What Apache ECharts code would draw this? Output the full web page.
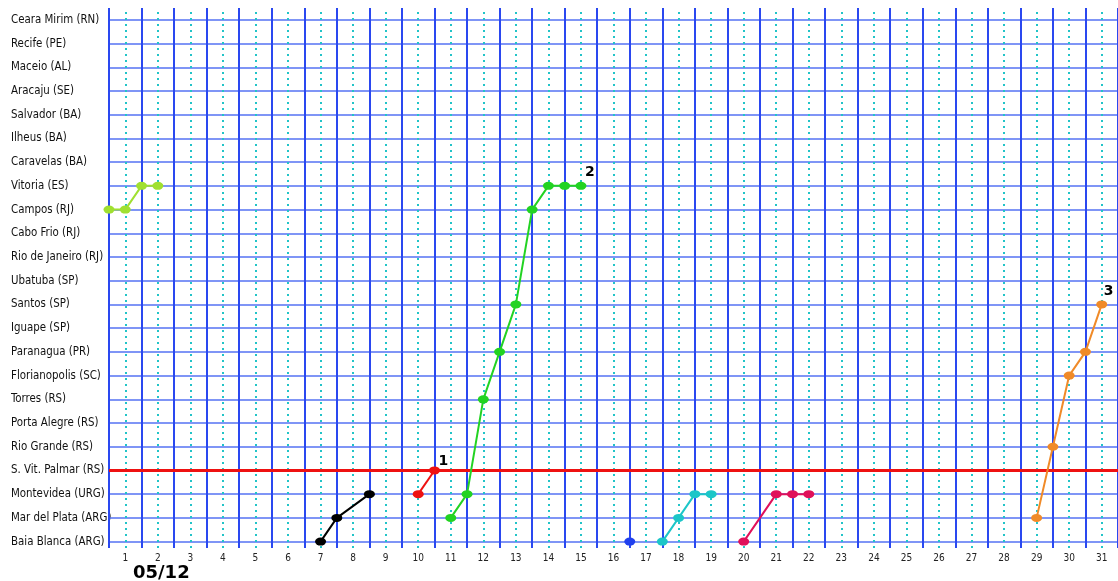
<!DOCTYPE html>
<html>
<head>
<meta charset="utf-8">
<script src="https://cdn.jsdelivr.net/npm/echarts@6/dist/echarts.min.js"></script>
<style>html,body{margin:0;padding:0;background:#fff}#c{width:1118px;height:581px}</style>
</head>
<body>
<div id="c"></div>
<script>
const categories = ['Baia Blanca (ARG)','Mar del Plata (ARG)','Montevidea (URG)','S. Vit. Palmar (RS)','Rio Grande (RS)','Porta Alegre (RS)','Torres (RS)','Florianopolis (SC)','Paranagua (PR)','Iguape (SP)','Santos (SP)','Ubatuba (SP)','Rio de Janeiro (RJ)','Cabo Frio (RJ)','Campos (RJ)','Vitoria (ES)','Caravelas (BA)','Ilheus (BA)','Salvador (BA)','Aracaju (SE)','Maceio (AL)','Recife (PE)','Ceara Mirim (RN)'];
const dayLabels = ['1','2','3','4','5','6','7','8','9','10','11','12','13','14','15','16','17','18','19','20','21','22','23','24','25','26','27','28','29','30','31'];
const dateLabel = '05/12';
const referenceStation = 'S. Vit. Palmar (RS)';

const seriesLime    = [[0.5,'Campos (RJ)'],[1,'Campos (RJ)'],[1.5,'Vitoria (ES)'],[2,'Vitoria (ES)']];
const seriesBlack   = [[7,'Baia Blanca (ARG)'],[7.5,'Mar del Plata (ARG)'],[8.5,'Montevidea (URG)']];
const seriesRed     = [[10,'Montevidea (URG)'],[10.5,'S. Vit. Palmar (RS)']];
const seriesGreen   = [[11,'Mar del Plata (ARG)'],[11.5,'Montevidea (URG)'],[12,'Torres (RS)'],[12.5,'Paranagua (PR)'],[13,'Santos (SP)'],[13.5,'Campos (RJ)'],[14,'Vitoria (ES)'],[14.5,'Vitoria (ES)'],[15,'Vitoria (ES)']];
const seriesBlue    = [[16.5,'Baia Blanca (ARG)']];
const seriesCyan    = [[17.5,'Baia Blanca (ARG)'],[18,'Mar del Plata (ARG)'],[18.5,'Montevidea (URG)'],[19,'Montevidea (URG)']];
const seriesMagenta = [[20,'Baia Blanca (ARG)'],[21,'Montevidea (URG)'],[21.5,'Montevidea (URG)'],[22,'Montevidea (URG)']];
const seriesOrange  = [[29,'Mar del Plata (ARG)'],[29.5,'Rio Grande (RS)'],[30,'Florianopolis (SC)'],[30.5,'Paranagua (PR)'],[31,'Santos (SP)']];
const frontLabels = {red:'1', green:'2', orange:'3'};

const toXY = arr => arr.map(p => [p[0], categories.indexOf(p[1])]);

const chart = echarts.init(document.getElementById('c'), null, {renderer:'canvas'});

const dayValues = dayLabels.map(d => Number(d));
const catIdx = categories.map((c,i) => i);

const markData = [];
catIdx.forEach(i => markData.push({yAxis:i, lineStyle:{color:'#5572f3', width:1.5, type:'solid'}}));
dayValues.forEach(d => markData.push({xAxis:d, lineStyle:{color:'#22c4c8', width:2, type:[2,4]}}));
dayValues.forEach(d => markData.push({xAxis:d - 0.5, lineStyle:{color:'#2a48f0', width:2, type:'solid'}}));
markData.push({xAxis:31.5, lineStyle:{color:'#2a48f0', width:2, type:'solid'}});
markData.push({yAxis:categories.indexOf(referenceStation), lineStyle:{color:'#ee1111', width:3, type:'solid'}});

function mkSeries(name, data, color, labelText, labelOffset){
  const n = data.length;
  return {
    name, type:'line', data: toXY(data), z:5,
    symbol:'circle', symbolSize:[11,8],
    lineStyle:{color, width:2}, itemStyle:{color},
    label:{show: !!labelText, position:'top', distance:0, offset: labelOffset || [0,0],
      formatter: p => (labelText && p.dataIndex === n-1) ? labelText : '',
      color:'#000', fontWeight:'bold', fontSize:14, fontFamily:'DejaVu Sans'},
    animation:false
  };
}

const option = {
  backgroundColor:'#ffffff',
  animation:false,
  grid:{left:109, right:0, top:8, bottom:33, containLabel:false},
  xAxis:{type:'value', min:0.5, max:31.5,
    axisLine:{show:false}, axisTick:{show:false}, splitLine:{show:false},
    axisLabel:{customValues: dayValues, formatter: v => String(v), fontSize:10, color:'#222', margin:5, fontFamily:'DejaVu Sans Condensed, DejaVu Sans, sans-serif'}},
  yAxis:{type:'value', min:-0.27, max:22.5,
    axisLine:{show:false}, axisTick:{show:false}, splitLine:{show:false},
    axisLabel:{customValues: catIdx, formatter: v => categories[Math.round(v)], align:'left', margin:98, fontSize:11.4, color:'#111', fontFamily:'DejaVu Sans Condensed, Liberation Sans Narrow, sans-serif'}},
  graphic:[{type:'text', left:133, top:564, style:{text:dateLabel, fontSize:18, fontWeight:'bold', fill:'#000', fontFamily:'DejaVu Sans'}}],
  series:[
    {type:'line', data:[], silent:true, z:1,
      markLine:{silent:true, symbol:['none','none'], label:{show:false}, animation:false, data: markData}},
    mkSeries('lime', seriesLime, '#a0e030'),
    mkSeries('black', seriesBlack, '#000000'),
    mkSeries('red', seriesRed, '#ee1111', frontLabels.red, [9,2]),
    mkSeries('green', seriesGreen, '#22d322', frontLabels.green, [9,-3]),
    mkSeries('blue', seriesBlue, '#2040ee'),
    mkSeries('cyan', seriesCyan, '#1cc6c8'),
    mkSeries('magenta', seriesMagenta, '#e0105a'),
    mkSeries('orange', seriesOrange, '#f08a28', frontLabels.orange, [7,-2])
  ]
};
chart.setOption(option);
</script>
</body>
</html>
